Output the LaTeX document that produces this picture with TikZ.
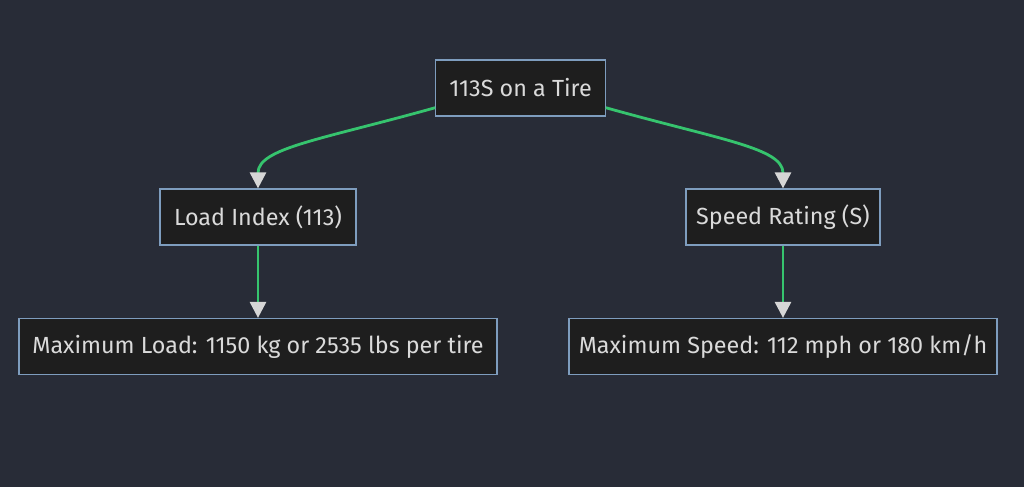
\documentclass[tikz,border=0pt]{standalone}
\usepackage{fontspec}
\setmainfont{Fira Sans}
\usepackage{tikz}
\usetikzlibrary{arrows.meta}
\definecolor{bgcol}{HTML}{282C37}
\definecolor{boxfill}{HTML}{1E1E1E}
\definecolor{boxline}{HTML}{7E9DBE}
\definecolor{edgecol}{HTML}{36C46E}
\definecolor{tipcol}{HTML}{D6D6D6}
\definecolor{textcol}{HTML}{DADADA}
\tikzset{%
	every box/.style={
		draw=boxline,
		fill=boxfill,
		line width=0.9pt,
		text=textcol,
		font=\fontsize{17.5}{20}\selectfont,
		inner sep=0pt,
		minimum height=42pt
	},
	flow/.style={
		draw=edgecol,
		line width=2.1pt,
		-{Triangle[width=12pt,length=12pt,color=tipcol]}
	},
}
\begin{document}
\begin{tikzpicture}[x=0.75pt,y=-0.75pt]
			\fill[bgcol] (0,0) rectangle (1024,487);
			\useasboundingbox (0,0) rectangle (1024,487);
			\node[every box, minimum width=127pt] (tire) at (520.5,88) {113S on a Tire};
			\node[every box, minimum width=147pt] (load) at (258,217) {Load Index (113)};
			\node[every box, minimum width=145.5pt] (speed) at (783,217) {Speed Rating (S)};
			\node[every box, minimum width=358.5pt] (maxload) at (258,346.5) {Maximum Load: 1150 kg or 2535 lbs per tire};
			\node[every box, minimum width=321pt] (maxspeed) at (783,346.5) {Maximum Speed: 112 mph or 180 km/h};
			
			\draw[flow] (tire.193) .. controls (320,140) and (258,148) .. (load.north);
			\draw[flow] (tire.-13) .. controls (721,140) and (783,148) .. (speed.north);
			\draw[flow] (load) -- (maxload);
			\draw[flow] (speed) -- (maxspeed);
			
			
		\end{tikzpicture}
\end{document}
